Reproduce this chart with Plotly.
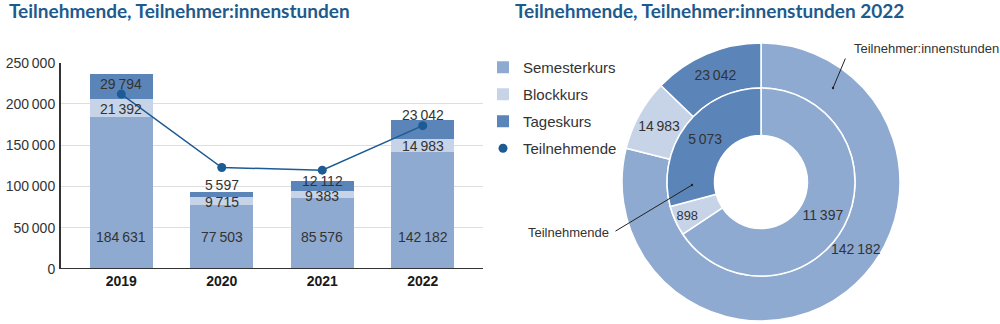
import math
import plotly.graph_objects as go

# ---- data ----
years = ["2019", "2020", "2021", "2022"]
semesterkurs = [184631, 77503, 85576, 142182]
blockkurs = [21392, 9715, 9383, 14983]
tageskurs = [29794, 5597, 12112, 23042]
teilnehmende = [21200, 12300, 11980, 17368]

donut_labels = ["Semesterkurs", "Blockkurs", "Tageskurs"]
stunden_2022 = [142182, 14983, 23042]
teilnehmende_2022 = [11397, 898, 5073]

y_ticks = [0, 50000, 100000, 150000, 200000, 250000]

# ---- styles ----
C_SEM = "#8eaad0"
C_BLOCK = "#c7d4e8"
C_TAGE = "#5b85b9"
C_LINE = "#1d5b94"
C_TITLE = "#1e5b8c"
C_TEXT = "#333333"
FONT = "Liberation Sans, Arial, sans-serif"
TAGE_SHIFT = [3, 10, 5, 15]
W, H = 1000, 324
PIE_CX, PIE_CY = 761, 182          # donut centre in px
R_OUT, R_MID, R_IN = 139, 94, 46.5  # ring radii in px
BIG_LABEL_FRAC = 0.44               # where along the big slice its label sits


def fmt(v):
    return f"{v:,}".replace(",", "\u2009")


def px_x(x):
    return x / W


def px_y(y):
    return (H - y) / H


fig = go.Figure()

fig.add_trace(go.Bar(x=years, y=semesterkurs, name="Semesterkurs", marker_color=C_SEM,
                     marker_line_width=0, width=0.625, legendgroup="a", hoverinfo="skip"))
fig.add_trace(go.Bar(x=years, y=blockkurs, name="Blockkurs", marker_color=C_BLOCK,
                     marker_line_width=0, width=0.625, legendgroup="b", hoverinfo="skip"))
fig.add_trace(go.Bar(x=years, y=tageskurs, name="Tageskurs", marker_color=C_TAGE,
                     marker_line_width=0, width=0.625, legendgroup="c", hoverinfo="skip"))
fig.add_trace(go.Scatter(x=years, y=teilnehmende, yaxis="y2", mode="lines",
                         line=dict(color=C_LINE, width=1.5), showlegend=False, hoverinfo="skip"))
fig.add_trace(go.Scatter(x=years, y=teilnehmende, yaxis="y2", mode="markers", name="Teilnehmende",
                         marker=dict(color=C_LINE, size=9), legendgroup="d", hoverinfo="skip"))

# donut (outer: Teilnehmer:innenstunden, inner: Teilnehmende)
outer_text = [fmt(v) for v in stunden_2022]
outer_text[0] = ""  # big slice labelled by annotation below
fig.add_trace(go.Pie(labels=donut_labels, values=stunden_2022, hole=R_MID / R_OUT, sort=False,
                     direction="clockwise", rotation=0,
                     domain=dict(x=[px_x(PIE_CX - R_OUT), px_x(PIE_CX + R_OUT)],
                                 y=[px_y(PIE_CY + R_OUT), px_y(PIE_CY - R_OUT)]),
                     marker=dict(colors=[C_SEM, C_BLOCK, C_TAGE], line=dict(color="white", width=1.5)),
                     text=outer_text, textinfo="text", textposition="inside",
                     insidetextorientation="horizontal",
                     textfont=dict(size=14, color=C_TEXT, family=FONT),
                     showlegend=False, hoverinfo="skip"))
fig.add_trace(go.Pie(labels=donut_labels, values=teilnehmende_2022, hole=R_IN / R_MID, sort=False,
                     direction="clockwise", rotation=0,
                     domain=dict(x=[px_x(PIE_CX - R_MID), px_x(PIE_CX + R_MID)],
                                 y=[px_y(PIE_CY + R_MID), px_y(PIE_CY - R_MID)]),
                     marker=dict(colors=[C_SEM, C_BLOCK, C_TAGE], line=dict(color="white", width=1.5)),
                     text=[fmt(v) for v in teilnehmende_2022], textinfo="text", textposition="inside",
                     insidetextorientation="horizontal",
                     textfont=dict(size=14, color=C_TEXT, family=FONT),
                     showlegend=False, hoverinfo="skip"))

annotations = []
# bar labels
for i, yr in enumerate(years):
    annotations.append(dict(x=i, y=38500, xref="x", yref="y", text=fmt(semesterkurs[i]),
                            showarrow=False, font=dict(size=14, color=C_TEXT)))
    annotations.append(dict(x=i, y=semesterkurs[i] + blockkurs[i] / 2, xref="x", yref="y",
                            text=fmt(blockkurs[i]), showarrow=False, yshift=-1,
                            font=dict(size=14, color=C_TEXT)))
    annotations.append(dict(x=i, y=semesterkurs[i] + blockkurs[i] + tageskurs[i] / 2, xref="x", yref="y",
                            text=fmt(tageskurs[i]), showarrow=False, yshift=TAGE_SHIFT[i],
                            font=dict(size=14, color=C_TEXT)))

# label of the big outer slice, placed along the slice from the data
ang = math.radians(360 * stunden_2022[0] / sum(stunden_2022) * BIG_LABEL_FRAC)
r_lab = (R_OUT + R_MID) / 2
annotations.append(dict(x=px_x(PIE_CX + r_lab * math.sin(ang)), y=px_y(PIE_CY - r_lab * math.cos(ang)),
                        xref="paper", yref="paper", xanchor="center", yanchor="middle",
                        text=fmt(stunden_2022[0]), showarrow=False,
                        font=dict(size=14, color=C_TEXT)))

# titles
annotations.append(dict(x=0.007, y=1.0, xref="paper", yref="paper", xanchor="left", yanchor="top",
                        yshift=3, text="<b>Teilnehmende, Teilnehmer:innenstunden</b>", showarrow=False,
                        font=dict(family="Lato, sans-serif", size=19, color=C_TITLE)))
annotations.append(dict(x=0.513, y=1.0, xref="paper", yref="paper", xanchor="left", yanchor="top",
                        yshift=3, text="<b>Teilnehmende, Teilnehmer:innenstunden 2022</b>", showarrow=False,
                        font=dict(family="Lato, sans-serif", size=19, color=C_TITLE)))

# callouts: leader lines with dot, and their texts
annotations.append(dict(x=px_x(833), y=px_y(88), xref="paper", yref="paper", text="",
                        showarrow=True, arrowhead=6, arrowsize=0.6, arrowwidth=1, arrowcolor="#222",
                        ax=13, ay=-31, standoff=0))
annotations.append(dict(x=px_x(852), y=px_y(48), xref="paper", yref="paper",
                        xanchor="left", yanchor="middle",
                        text="Teilnehmer:innenstunden", showarrow=False,
                        font=dict(size=13, color=C_TEXT)))
annotations.append(dict(x=px_x(692), y=px_y(185), xref="paper", yref="paper", text="",
                        showarrow=True, arrowhead=6, arrowsize=0.6, arrowwidth=1, arrowcolor="#222",
                        ax=-78, ay=47, standoff=0))
annotations.append(dict(x=px_x(611), y=px_y(232), xref="paper", yref="paper",
                        xanchor="right", yanchor="middle",
                        text="Teilnehmende", showarrow=False,
                        font=dict(size=13, color=C_TEXT)))

fig.update_layout(
    width=W, height=H,
    margin=dict(l=0, r=0, t=0, b=0),
    paper_bgcolor="white", plot_bgcolor="white",
    font=dict(family=FONT, color=C_TEXT, size=14),
    barmode="stack",
    separators=",\u2009",
    xaxis=dict(type="category", domain=[0.061, 0.483], range=[-0.6, 3.6], showgrid=False,
               tickfont=dict(size=14, color="#1a1a1a", family="Liberation Sans, Arial, sans-serif"),
               ticks="", tickprefix="<b>", ticksuffix="</b>",
               showline=False, zeroline=False, automargin=False, ticklabelstandoff=2),
    yaxis=dict(domain=[55 / H, 261.3 / H], range=[0, 250000], tickvals=y_ticks,
               tickformat=",d", showgrid=True, gridcolor="#dedede", gridwidth=1,
               showline=True, linecolor="#333", linewidth=2, zeroline=False, automargin=False,
               tickfont=dict(size=14, color=C_TEXT), ticks="", ticklabelstandoff=1),
    yaxis2=dict(overlaying="y", range=[0, 25000], visible=False),
    showlegend=True,
    legend=dict(x=0.483, y=px_y(51), xanchor="left", yanchor="top",
                traceorder="grouped", tracegroupgap=4.5, font=dict(size=15, color=C_TEXT),
                itemwidth=30, bgcolor="rgba(0,0,0,0)"),
    annotations=annotations,
    shapes=[dict(type="line", xref="paper", yref="y", x0=0.061, x1=0.483, y0=0, y1=0,
                 line=dict(color="#333", width=2))],
)

fig.write_html("out.html")
